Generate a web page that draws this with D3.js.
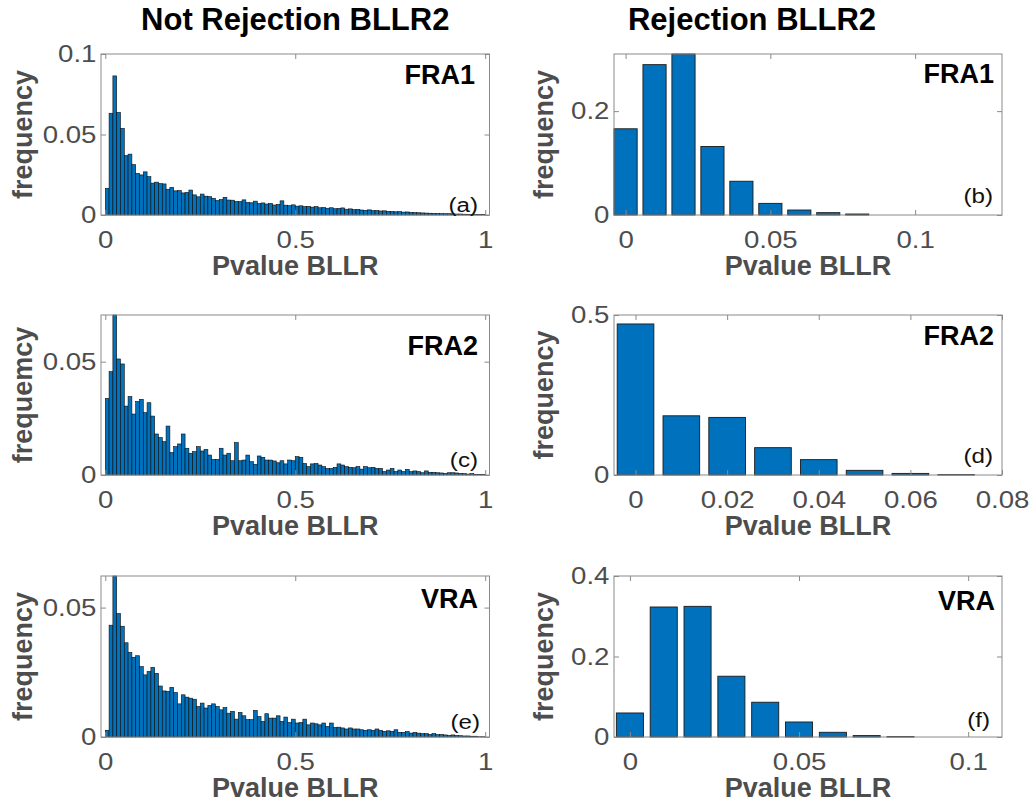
<!DOCTYPE html>
<html>
<head>
<meta charset="utf-8">
<script src="https://cdn.jsdelivr.net/npm/d3@7"></script>
<style>
  body { margin: 0; background: #fff; }
  svg { display: block; font-family: 'Liberation Sans', Arial, Helvetica, sans-serif; }
</style>
</head>
<body>
<div id="chart"></div>
<script>
// 100 histogram bins of width 0.01 on [0, 1] (left edges)
const histBinWidth = 0.01
const histBins = d3.range(100).map(i => i / 100)

// frequencies, "Not Rejection BLLR2" column
const fra1NotRejected = [
  0.0166, 0.0632, 0.0864, 0.0637, 0.0538, 0.0369, 0.0378, 0.0313, 0.0259, 0.0249,
  0.0268, 0.0238, 0.0198, 0.0204, 0.0195, 0.0193, 0.0160, 0.0172, 0.0150, 0.0152,
  0.0137, 0.0140, 0.0155, 0.0125, 0.0113, 0.0130, 0.0117, 0.0114, 0.0104, 0.0090,
  0.0096, 0.0110, 0.0093, 0.0092, 0.0084, 0.0083, 0.0094, 0.0078, 0.0076, 0.0086,
  0.0071, 0.0075, 0.0068, 0.0072, 0.0062, 0.0066, 0.0088, 0.0061, 0.0058, 0.0063,
  0.0055, 0.0057, 0.0052, 0.0054, 0.0049, 0.0052, 0.0045, 0.0047, 0.0042, 0.0045,
  0.0039, 0.0041, 0.0044, 0.0036, 0.0038, 0.0033, 0.0035, 0.0031, 0.0029, 0.0032,
  0.0027, 0.0028, 0.0025, 0.0026, 0.0023, 0.0022, 0.0020, 0.0021, 0.0018, 0.0019,
  0.0016, 0.0015, 0.0014, 0.0013, 0.0012, 0.0011, 0.0010, 0.0010, 0.0009, 0.0008,
  0.0008, 0.0007, 0.0006, 0.0006, 0.0005, 0.0004, 0.0004, 0.0003, 0.0002, 0.0002
]
const fra2NotRejected = [
  0.0338, 0.0456, 0.0706, 0.0512, 0.0490, 0.0304, 0.0346, 0.0269, 0.0324, 0.0334,
  0.0275, 0.0319, 0.0260, 0.0181, 0.0165, 0.0147, 0.0216, 0.0099, 0.0125, 0.0137,
  0.0181, 0.0118, 0.0096, 0.0103, 0.0125, 0.0106, 0.0113, 0.0088, 0.0069, 0.0069,
  0.0118, 0.0088, 0.0096, 0.0063, 0.0143, 0.0063, 0.0066, 0.0088, 0.0059, 0.0047,
  0.0084, 0.0078, 0.0066, 0.0066, 0.0062, 0.0054, 0.0063, 0.0049, 0.0066, 0.0063,
  0.0081, 0.0078, 0.0051, 0.0037, 0.0049, 0.0051, 0.0044, 0.0037, 0.0029, 0.0029,
  0.0034, 0.0049, 0.0044, 0.0037, 0.0034, 0.0032, 0.0037, 0.0026, 0.0037, 0.0032,
  0.0034, 0.0029, 0.0029, 0.0015, 0.0022, 0.0029, 0.0015, 0.0022, 0.0015, 0.0025,
  0.0015, 0.0018, 0.0015, 0.0010, 0.0018, 0.0012, 0.0012, 0.0010, 0.0009, 0.0007,
  0.0010, 0.0010, 0.0009, 0.0007, 0.0006, 0.0004, 0.0006, 0.0003, 0.0003, 0.0002
]
const vraNotRejected = [
  0.0026, 0.0432, 0.0622, 0.0477, 0.0428, 0.0364, 0.0327, 0.0308, 0.0314, 0.0272,
  0.0240, 0.0253, 0.0269, 0.0246, 0.0197, 0.0178, 0.0176, 0.0192, 0.0172, 0.0128,
  0.0163, 0.0154, 0.0150, 0.0146, 0.0118, 0.0131, 0.0112, 0.0122, 0.0128, 0.0118,
  0.0105, 0.0114, 0.0092, 0.0099, 0.0069, 0.0095, 0.0082, 0.0067, 0.0067, 0.0103,
  0.0079, 0.0060, 0.0090, 0.0073, 0.0073, 0.0082, 0.0060, 0.0077, 0.0056, 0.0069,
  0.0054, 0.0056, 0.0069, 0.0047, 0.0054, 0.0051, 0.0047, 0.0054, 0.0041, 0.0054,
  0.0037, 0.0038, 0.0035, 0.0031, 0.0035, 0.0031, 0.0031, 0.0028, 0.0026, 0.0028,
  0.0026, 0.0031, 0.0026, 0.0022, 0.0024, 0.0022, 0.0028, 0.0018, 0.0018, 0.0021,
  0.0015, 0.0018, 0.0015, 0.0013, 0.0013, 0.0010, 0.0013, 0.0009, 0.0010, 0.0008,
  0.0006, 0.0008, 0.0006, 0.0005, 0.0004, 0.0004, 0.0003, 0.0003, 0.0001, 0.0001
]

// "Rejection BLLR2" column: bar centres and frequencies
const rejectionCenters = [0, 0.01, 0.02, 0.03, 0.04, 0.05, 0.06, 0.07, 0.08]
const fra1Rejected = [0.166, 0.2895, 0.31, 0.132, 0.065, 0.0224, 0.0096, 0.0045, 0.0019]
const fra2Rejected = [0.472, 0.185, 0.180, 0.0854, 0.048, 0.0146, 0.005, 0.0012]
const vraRejected = [0.0597, 0.323, 0.3246, 0.151, 0.0864, 0.0373, 0.0117, 0.0035, 0.001]

// tick values
const leftXTicks = [0, 0.5, 1]
const bfXTicks = [0, 0.05, 0.1]
const dXTicks = [0, 0.02, 0.04, 0.06, 0.08]

const colTitles = ['Not Rejection BLLR2', 'Rejection BLLR2']

const width = 1030
const height = 807
const colX = [[101, 489.5], [614, 1002]]
const rowY = [[54, 215], [315, 475], [576, 737]]

const panels = [
  { col: 0, row: 0, kind: 'hist', values: fra1NotRejected, name: 'FRA1', tag: '(a)', ylabel: 'frequency',
    xDomain: [-0.0113, 1.0113], yDomain: [0, 0.1], xTicks: leftXTicks, yTicks: [0, 0.05, 0.1],
    nameX: 475, nameY: 84, tagX: 478, tagY: 212 },
  { col: 1, row: 0, kind: 'bar', centers: rejectionCenters, values: fra1Rejected, name: 'FRA1', tag: '(b)', ylabel: 'frequency',
    xDomain: [-0.004, 0.13], yDomain: [0, 0.31], xTicks: bfXTicks, yTicks: [0, 0.2],
    nameX: 994, nameY: 83, tagX: 993, tagY: 203 },
  { col: 0, row: 1, kind: 'hist', values: fra2NotRejected, name: 'FRA2', tag: '(c)', ylabel: 'frequemcy',
    xDomain: [-0.0113, 1.0113], yDomain: [0, 0.0706], xTicks: leftXTicks, yTicks: [0, 0.05],
    nameX: 478, nameY: 355, tagX: 478, tagY: 467 },
  { col: 1, row: 1, kind: 'bar', centers: rejectionCenters, values: fra2Rejected, name: 'FRA2', tag: '(d)', ylabel: 'frequency',
    xDomain: [-0.0047, 0.08], yDomain: [0, 0.5], xTicks: dXTicks, yTicks: [0, 0.5],
    nameX: 994, nameY: 345, tagX: 993, tagY: 463 },
  { col: 0, row: 2, kind: 'hist', values: vraNotRejected, name: 'VRA', tag: '(e)', ylabel: 'frequency',
    xDomain: [-0.0113, 1.0113], yDomain: [0, 0.0622], xTicks: leftXTicks, yTicks: [0, 0.05],
    nameX: 478, nameY: 608, tagX: 480, tagY: 729 },
  { col: 1, row: 2, kind: 'bar', centers: rejectionCenters, values: vraRejected, name: 'VRA', tag: '(f)', ylabel: 'frequency',
    xDomain: [-0.0047, 0.11], yDomain: [0, 0.4], xTicks: bfXTicks, yTicks: [0, 0.2, 0.4],
    nameX: 995, nameY: 610, tagX: 990, tagY: 727 }
]

const barColor = '#0072bd'
const grey = '#4d4d4d'
const boxColor = '#8a8a8a'
// the regular-weight lettering of the original is wider than Liberation Sans
const tickStretch = 'scale(1.15,1)'
const tagStretch = 'scale(1.15,1)'

const svg = d3
  .select('#chart')
  .append('svg')
  .attr('width', width)
  .attr('height', height)

svg.append('rect').attr('width', width).attr('height', height).attr('fill', '#fff')

// column titles
svg
  .selectAll('.col-title')
  .data(colTitles)
  .enter()
  .append('text')
  .attr('class', 'col-title')
  .attr('x', (d, i) => (i === 0 ? (colX[0][0] + colX[0][1]) / 2 : 752))
  .attr('y', 30)
  .attr('text-anchor', 'middle')
  .attr('font-size', 31)
  .attr('font-weight', 700)
  .attr('fill', '#000')
  .text(d => d)

function styleAxis(sel) {
  sel.select('.domain').remove()
  sel.selectAll('line').attr('stroke', boxColor)
  sel
    .selectAll('text')
    .attr('font-size', 24)
    .attr('fill', grey)
    .attr('font-family', "'Liberation Sans', Arial, sans-serif")
    .attr('transform', tickStretch)
}

panels.forEach(p => {
  const [x0, x1] = colX[p.col]
  const [y0, y1] = rowY[p.row]

  const x = d3.scaleLinear().domain(p.xDomain).range([x0, x1])
  const y = d3.scaleLinear().domain(p.yDomain).range([y1, y0])

  const g = svg.append('g')

  if (p.kind === 'hist') {
    g.selectAll('.bar')
      .data(p.values)
      .enter()
      .append('rect')
      .attr('class', 'bar')
      .attr('x', (d, i) => x(histBins[i]))
      .attr('width', (d, i) => x(histBins[i] + histBinWidth) - x(histBins[i]))
      .attr('y', d => y(d))
      .attr('height', d => y(0) - y(d))
      .attr('fill', barColor)
      .attr('stroke', '#0d0d0d')
      .attr('stroke-width', 0.6)
  } else {
    const barWidth = 0.008
    g.selectAll('.bar')
      .data(p.values)
      .enter()
      .append('rect')
      .attr('class', 'bar')
      .attr('x', (d, i) => x(p.centers[i] - barWidth / 2))
      .attr('width', x(barWidth) - x(0))
      .attr('y', d => y(d))
      .attr('height', d => y(0) - y(d))
      .attr('fill', barColor)
      .attr('stroke', '#1a1a1a')
      .attr('stroke-width', 0.9)
  }

  // axes, ticks pointing inward, mirrored on top and right
  g.append('g')
    .attr('transform', 'translate(0,' + y1 + ')')
    .call(d3.axisBottom(x).tickValues(p.xTicks).tickFormat(d => String(d)).tickSizeInner(-5).tickSizeOuter(0).tickPadding(16))
    .call(styleAxis)

  g.append('g')
    .attr('transform', 'translate(0,' + y0 + ')')
    .call(d3.axisTop(x).tickValues(p.xTicks).tickFormat('').tickSizeInner(-5).tickSizeOuter(0))
    .call(styleAxis)

  g.append('g')
    .attr('transform', 'translate(' + x0 + ',0)')
    .call(d3.axisLeft(y).tickValues(p.yTicks).tickFormat(d => String(d)).tickSizeInner(-5).tickSizeOuter(0).tickPadding(4))
    .call(styleAxis)

  g.append('g')
    .attr('transform', 'translate(' + x1 + ',0)')
    .call(d3.axisRight(y).tickValues(p.yTicks).tickFormat('').tickSizeInner(-5).tickSizeOuter(0))
    .call(styleAxis)

  g.append('rect')
    .attr('x', x0)
    .attr('y', y0)
    .attr('width', x1 - x0)
    .attr('height', y1 - y0)
    .attr('fill', 'none')
    .attr('stroke', boxColor)
    .attr('stroke-width', 1)

  // labels
  g.append('text')
    .attr('x', (x0 + x1) / 2)
    .attr('y', y1 + 60)
    .attr('text-anchor', 'middle')
    .attr('font-size', 27)
    .attr('font-weight', 700)
    .attr('fill', grey)
    .text('Pvalue BLLR')

  g.append('text')
    .attr('transform', 'translate(' + (p.col === 0 ? 32 : 553) + ',' + (y0 + y1) / 2 + ') rotate(-90)')
    .attr('text-anchor', 'middle')
    .attr('font-size', 27)
    .attr('font-weight', 700)
    .attr('fill', grey)
    .text(p.ylabel)

  g.append('text')
    .attr('x', p.nameX)
    .attr('y', p.nameY)
    .attr('text-anchor', 'end')
    .attr('font-size', 27)
    .attr('font-weight', 700)
    .attr('fill', '#000')
    .text(p.name)

  g.append('text')
    .attr('transform', 'translate(' + p.tagX + ',' + p.tagY + ') ' + tagStretch)
    .attr('text-anchor', 'end')
    .attr('font-size', 21)
    .attr('fill', '#111')
    .text(p.tag)
})
</script>
</body>
</html>
